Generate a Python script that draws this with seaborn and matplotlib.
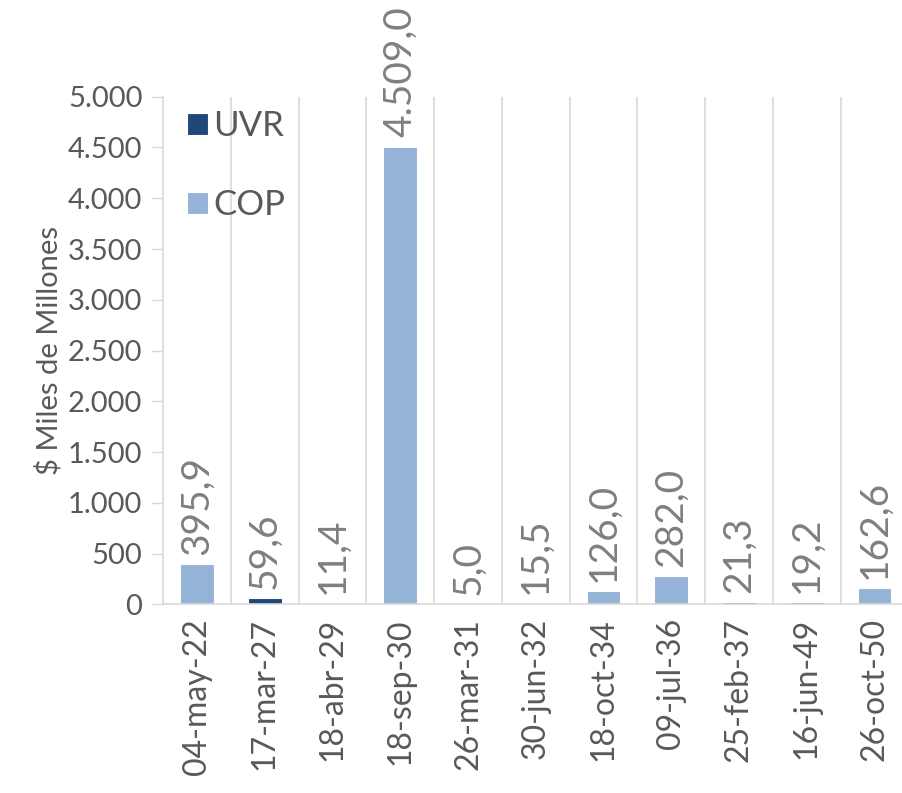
import pandas as pd
import numpy as np
import matplotlib
matplotlib.use("Agg")
import matplotlib.pyplot as plt
import seaborn as sns

# Vencimientos y montos (miles de millones)
fechas = ["04-may-22", "17-mar-27", "18-abr-29", "18-sep-30", "26-mar-31", "30-jun-32",
          "18-oct-34", "09-jul-36", "25-feb-37", "16-jun-49", "26-oct-50"]
uvr = [0, 59.6, 0, 0, 0, 0, 0, 0, 21.3, 19.2, 0]
cop = [395.9, 0, 11.4, 4509.0, 5.0, 15.5, 126.0, 282.0, 0, 0, 162.6]

df = pd.DataFrame({"Fecha": fechas, "UVR": uvr, "COP": cop})
df["Total"] = df["UVR"] + df["COP"]

sns.set_theme(style="white")
plt.rcParams["font.family"] = ["Lato", "DejaVu Sans"]

c_uvr = "#1f4878"
c_cop = "#95b3d7"
grid_c = "#d9d9d9"
txt_c = "#595959"
lab_c = "#7f7f7f"

fig = plt.figure(figsize=(9.02, 7.93), dpi=100)
ax = fig.add_axes([0.181, 0.238, 0.826, 0.640])

# barras apiladas: UVR abajo, COP encima
sns.barplot(data=df, x="Fecha", y="Total", color=c_cop, width=0.5, ax=ax, saturation=1,
            edgecolor="white", linewidth=0.8, label="COP")
sns.barplot(data=df, x="Fecha", y="UVR", color=c_uvr, width=0.5, ax=ax, saturation=1,
            edgecolor="white", linewidth=0.8, label="UVR")

for i, v in enumerate(df["Total"]):
    s = f"{v:,.1f}".replace(",", "X").replace(".", ",").replace("X", ".")
    ax.text(i, v + 90, s, rotation=90, ha="center", va="bottom",
            fontsize=28, color=lab_c, clip_on=False)

ax.set_ylim(0, 5000)
ax.set_xlim(-0.5, len(fechas) - 0.5)
ax.set_yticks(np.arange(0, 5001, 500))
ax.set_yticklabels([f"{int(t):,}".replace(",", ".") for t in np.arange(0, 5001, 500)],
                   fontsize=21, color=txt_c)
ax.tick_params(axis="y", length=9, width=1, color=grid_c, pad=6, left=True)
ax.tick_params(axis="x", length=0, pad=10, labelsize=23, labelcolor=txt_c)
plt.setp(ax.get_xticklabels(), rotation=90)

for b in np.arange(0.5, len(fechas) - 0.5, 1):
    ax.axvline(b, color=grid_c, lw=1.2, zorder=0)

for sp in ["top", "right"]:
    ax.spines[sp].set_visible(False)
for sp in ["left", "bottom"]:
    ax.spines[sp].set_color(grid_c)
    ax.spines[sp].set_linewidth(1.2)

ax.set_xlabel("")
ax.set_ylabel("$ Miles de Millones", fontsize=21, color=txt_c, labelpad=4)

h, l = ax.get_legend_handles_labels()
order = [l.index("UVR"), l.index("COP")]
ax.legend([h[k] for k in order], [l[k] for k in order], loc="upper left",
          bbox_to_anchor=(-0.01, 1.035), frameon=False, fontsize=25,
          handlelength=0.6, handleheight=0.6, handletextpad=0.15,
          labelspacing=1.35, labelcolor=txt_c)

fig.savefig("out.png", dpi=100)
